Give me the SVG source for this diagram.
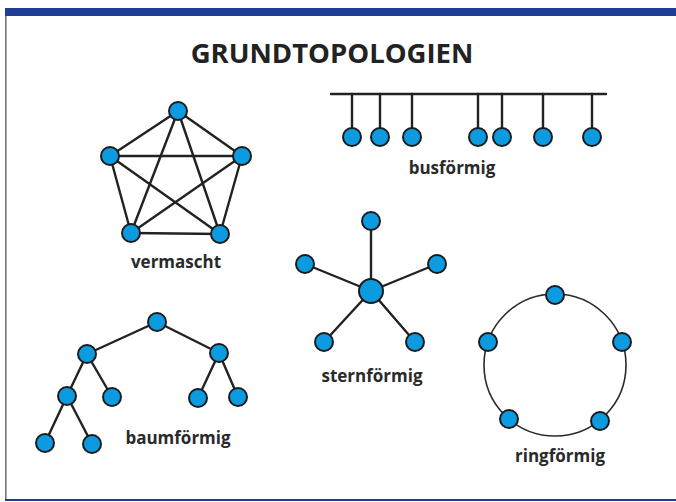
<svg xmlns="http://www.w3.org/2000/svg" width="676" height="502" viewBox="0 0 676 502">
  <style>
    .frame { fill: #1f3d94; }
    .edge { stroke: #222; stroke-width: 2.4; stroke-linecap: round; fill: none; }
    .ring { stroke: #2a2a2a; stroke-width: 1.6; fill: none; }
    .node { fill: #0c9be0; stroke: #1b1b1b; stroke-width: 2; }
    .title { font-family: "Open Sans", "Liberation Sans", sans-serif; font-weight: 700; font-size: 27.5px; fill: #222; text-anchor: middle; }
    .label { font-family: "Open Sans", "Liberation Sans", sans-serif; font-weight: 700; font-size: 17px; fill: #2a2a2a; text-anchor: middle; }
  </style>

  <!-- page frame -->
  <rect width="676" height="502" fill="#fff"/>
  <rect class="frame" x="5" y="8" width="671" height="8"/>
  <rect x="5" y="16" width="1.6" height="484" fill="#777"/>
  <rect class="frame" x="5" y="499" width="671" height="2"/>

  <text class="title" x="332" y="63">GRUNDTOPOLOGIEN</text>

  <!-- connectors -->
  <g id="connectors">
    <!-- vermascht: fully meshed pentagon -->
    <g id="mesh-edges">
      <line class="edge" x1="178" y1="111" x2="110" y2="156"/>
      <line class="edge" x1="178" y1="111" x2="242" y2="156"/>
      <line class="edge" x1="178" y1="111" x2="131" y2="233"/>
      <line class="edge" x1="178" y1="111" x2="220" y2="234"/>
      <line class="edge" x1="110" y1="156" x2="242" y2="156"/>
      <line class="edge" x1="110" y1="156" x2="131" y2="233"/>
      <line class="edge" x1="110" y1="156" x2="220" y2="234"/>
      <line class="edge" x1="242" y1="156" x2="131" y2="233"/>
      <line class="edge" x1="242" y1="156" x2="220" y2="234"/>
      <line class="edge" x1="131" y1="233" x2="220" y2="234"/>
    </g>
    <!-- bus -->
    <g id="bus-edges">
      <line class="edge" x1="331" y1="94" x2="606" y2="94" stroke-linecap="butt"/>
      <line class="edge" x1="352" y1="94" x2="352" y2="137"/>
      <line class="edge" x1="380" y1="94" x2="380" y2="137"/>
      <line class="edge" x1="412" y1="94" x2="412" y2="137"/>
      <line class="edge" x1="478" y1="94" x2="478" y2="137"/>
      <line class="edge" x1="502" y1="94" x2="502" y2="137"/>
      <line class="edge" x1="543" y1="94" x2="543" y2="137"/>
      <line class="edge" x1="592" y1="94" x2="592" y2="137"/>
    </g>
    <!-- star -->
    <g id="star-edges">
      <line class="edge" x1="371" y1="291" x2="371" y2="221"/>
      <line class="edge" x1="371" y1="291" x2="305" y2="264"/>
      <line class="edge" x1="371" y1="291" x2="437" y2="264"/>
      <line class="edge" x1="371" y1="291" x2="324" y2="342"/>
      <line class="edge" x1="371" y1="291" x2="415" y2="342"/>
    </g>
    <!-- tree -->
    <g id="tree-edges">
      <line class="edge" x1="157" y1="322" x2="87" y2="354"/>
      <line class="edge" x1="157" y1="322" x2="219" y2="353"/>
      <line class="edge" x1="87" y1="354" x2="67" y2="396"/>
      <line class="edge" x1="87" y1="354" x2="112" y2="397"/>
      <line class="edge" x1="219" y1="353" x2="198" y2="398"/>
      <line class="edge" x1="219" y1="353" x2="238" y2="397"/>
      <line class="edge" x1="67" y1="396" x2="45" y2="443"/>
      <line class="edge" x1="67" y1="396" x2="92" y2="444"/>
    </g>
    <!-- ring -->
    <circle class="ring" cx="555" cy="365" r="71"/>
  </g>

  <!-- vermascht -->
  <g id="mesh">
    <circle class="node" cx="178" cy="111" r="9"/>
    <circle class="node" cx="110" cy="156" r="9"/>
    <circle class="node" cx="242" cy="156" r="9"/>
    <circle class="node" cx="131" cy="233" r="9"/>
    <circle class="node" cx="220" cy="234" r="9"/>
    <text class="label" x="176" y="268">vermascht</text>
  </g>

  <!-- busförmig -->
  <g id="bus">
    <circle class="node" cx="352" cy="137" r="9"/>
    <circle class="node" cx="380" cy="137" r="9"/>
    <circle class="node" cx="412" cy="137" r="9"/>
    <circle class="node" cx="478" cy="137" r="9"/>
    <circle class="node" cx="502" cy="137" r="9"/>
    <circle class="node" cx="543" cy="137" r="9"/>
    <circle class="node" cx="592" cy="137" r="9"/>
    <text class="label" x="452" y="174">busförmig</text>
  </g>

  <!-- sternförmig -->
  <g id="star">
    <circle class="node" cx="371" cy="291" r="12"/>
    <circle class="node" cx="371" cy="221" r="9"/>
    <circle class="node" cx="305" cy="264" r="9"/>
    <circle class="node" cx="437" cy="264" r="9"/>
    <circle class="node" cx="324" cy="342" r="9"/>
    <circle class="node" cx="415" cy="342" r="9"/>
    <text class="label" x="372" y="382">sternförmig</text>
  </g>

  <!-- baumförmig -->
  <g id="tree">
    <circle class="node" cx="157" cy="322" r="9"/>
    <circle class="node" cx="87" cy="354" r="9"/>
    <circle class="node" cx="219" cy="353" r="9"/>
    <circle class="node" cx="67" cy="396" r="9"/>
    <circle class="node" cx="112" cy="397" r="9"/>
    <circle class="node" cx="198" cy="398" r="9"/>
    <circle class="node" cx="238" cy="397" r="9"/>
    <circle class="node" cx="45" cy="443" r="9"/>
    <circle class="node" cx="92" cy="444" r="9"/>
    <text class="label" x="178" y="444">baumförmig</text>
  </g>

  <!-- ringförmig -->
  <g id="ring">
    <circle class="node" cx="555" cy="295" r="9"/>
    <circle class="node" cx="622" cy="342" r="9"/>
    <circle class="node" cx="488" cy="342" r="9"/>
    <circle class="node" cx="600" cy="421" r="9"/>
    <circle class="node" cx="509" cy="419" r="9"/>
    <text class="label" x="560" y="462">ringförmig</text>
  </g>
</svg>
